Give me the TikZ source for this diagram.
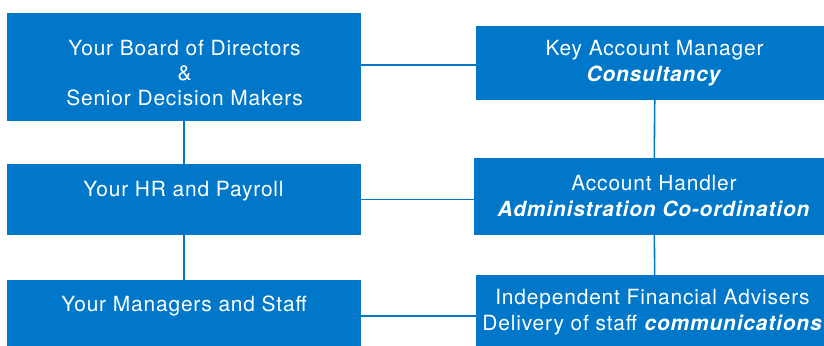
\documentclass[tikz,border=0pt]{standalone}
\usepackage{fontspec}
\setmainfont[LetterSpace=4]{TeX Gyre Heros}
\definecolor{orgblue}{RGB}{0,119,200}
\tikzset{
  box/.style={fill=orgblue, inner sep=0pt},
  boxtext/.style={text=white, align=center, inner sep=0pt, font=\fontsize{21}{25.5}\selectfont},
  link/.style={draw=orgblue, line width=1.6pt}
}
\begin{document}
\begin{tikzpicture}[x=1bp, y=-1bp]
    \useasboundingbox (0,0) rectangle (824,345);
    % Left column: the client side
    \node[box, minimum width=354bp, minimum height=108bp] (board) at (184,67) {};
    \node[box, minimum width=354bp, minimum height=71bp] (hr) at (184,199.5) {};
    \node[box, minimum width=354bp, minimum height=70bp] (staff) at (184,315) {};
    \node[boxtext] (boardtext) at (184.5,73) {Your Board of Directors\\ \&\\ Senior Decision Makers};
    \node[boxtext] (hrtext) at (183.5,191) {Your HR and Payroll};
    \node[boxtext] (stafftext) at (184,306) {Your Managers and Staff};

    % Right column: the adviser side
    \node[box, minimum width=358bp, minimum height=74bp] (manager) at (655,63) {};
    \node[box, minimum width=360bp, minimum height=77bp] (handler) at (654,196.5) {};
    \node[box, minimum width=358bp, minimum height=72bp] (ifa) at (655,311) {};
    \node[boxtext] (managertext) at (654.5,63) {Key Account Manager\\ \textbf{\textit{Consultancy}}};
    \node[boxtext] (handlertext) at (654,196) {Account Handler\\ \textbf{\textit{Administration Co-ordination}}};
    \node[boxtext] (ifatext) at (652.5,312) {Independent Financial Advisers\\ Delivery of staff \textbf{\textit{communications}}};

    % Connectors
    \draw[link] (board) -- (hr);
    \draw[link] (hr) -- (staff);
    \draw[link] (manager) -- (handler);
    \draw[link] (handler) -- (ifa);
    \draw[link] ([yshift=2bp]board.east) -- ([yshift=2bp]board.east -| manager.west);
    \draw[link] (hr.east) -- (hr.east -| handler.west);
    \draw[link] ([yshift=-1bp]staff.east) -- ([yshift=-1bp]staff.east -| ifa.west);
\end{tikzpicture}
\end{document}
